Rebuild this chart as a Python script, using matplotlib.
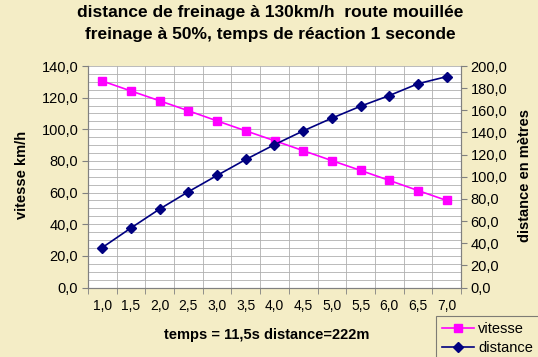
import matplotlib
matplotlib.use("Agg")
import matplotlib.pyplot as plt
from matplotlib.ticker import MultipleLocator, FuncFormatter, FixedLocator

plt.rcParams['font.family'] = ['Liberation Sans', 'DejaVu Sans']

# data
temps = ["1,0", "1,5", "2,0", "2,5", "3,0", "3,5", "4,0",
         "4,5", "5,0", "5,5", "6,0", "6,5", "7,0"]
vitesse = [130.5, 124.2, 118.0, 111.7, 105.3, 99.0, 92.8,
           86.5, 80.2, 74.0, 67.7, 61.3, 55.0]
distance = [36.1, 53.8, 70.9, 86.5, 101.2, 115.6, 129.0,
            141.4, 152.9, 163.7, 173.3, 184.0, 190.4]

bg = '#f4edc6'
grid_col = '#b0b0b0'
spine_col = '#808080'

def comma_fmt(v, pos):
    return f"{v:.1f}".replace('.', ',')

fig = plt.figure(figsize=(5.38, 3.57), dpi=100, facecolor=bg)
ax = fig.add_axes([88 / 538, 1 - 287.5 / 357, 373 / 538, 221.5 / 357])
ax.set_facecolor('white')
ax2 = ax.twinx()

x = list(range(len(temps)))

# left axis: vitesse
ax.set_xlim(-0.5, len(temps) - 0.5)
ax.set_ylim(0, 140)
ax.yaxis.set_major_locator(MultipleLocator(20))
ax.yaxis.set_minor_locator(MultipleLocator(5))
ax.yaxis.set_major_formatter(FuncFormatter(comma_fmt))
ax.set_xticks(x)
ax.set_xticklabels(temps)
ax.xaxis.set_minor_locator(FixedLocator([i - 0.5 for i in range(len(temps) + 1)]))
ax.tick_params(axis='x', which='major', length=0, pad=8, labelsize=10)
ax.tick_params(axis='x', which='minor', length=4, color=spine_col)
ax.tick_params(axis='y', which='major', length=4, color=spine_col, labelsize=10.5, pad=3)
ax.tick_params(axis='y', which='minor', length=0)
ax.grid(True, which='both', axis='y', color=grid_col, lw=0.6)
ax.grid(True, which='minor', axis='x', color=grid_col, lw=0.6)
ax.set_axisbelow(True)

# right axis: distance
ax2.set_ylim(0, 200)
ax2.yaxis.set_major_locator(MultipleLocator(20))
ax2.yaxis.set_major_formatter(FuncFormatter(comma_fmt))
ax2.tick_params(axis='y', length=4, color=spine_col, labelsize=10.5, pad=3)

for a in (ax, ax2):
    a.spines['top'].set_visible(False)
    for s in ('left', 'right', 'bottom'):
        a.spines[s].set_color(spine_col)
        a.spines[s].set_linewidth(0.8)

l1, = ax.plot(x, vitesse, color='#ff00ff', lw=1.2, marker='s', markersize=6,
              label='vitesse', zorder=3)
l2, = ax2.plot(x, distance, color='#000080', lw=1.2, marker='D', markersize=5,
               label='distance', zorder=3)

# titles and labels
fig.text(270 / 538, 1 - 13 / 357, "distance de freinage à 130km/h  route mouillée",
         ha='center', va='center', fontsize=12.5, fontweight='bold')
fig.text(270 / 538, 1 - 35 / 357, "freinage à 50%, temps de réaction 1 seconde",
         ha='center', va='center', fontsize=12.5, fontweight='bold')
fig.text(22 / 538, 1 - 175 / 357, "vitesse km/h", rotation=90,
         ha='center', va='center', fontsize=10.5, fontweight='bold')
fig.text(525 / 538, 1 - 175 / 357, "distance en mètres", rotation=90,
         ha='center', va='center', fontsize=10.5, fontweight='bold')
fig.text(267 / 538, 1 - 335 / 357, "temps = 11,5s distance=222m",
         ha='center', va='center', fontsize=10.5, fontweight='bold')

leg = fig.legend(handles=[l1, l2], loc='upper left',
                 bbox_to_anchor=(436 / 538, 1 - 316 / 357),
                 fontsize=10.5, frameon=True, fancybox=False,
                 handlelength=2.2, handletextpad=0.3, borderpad=0.4,
                 labelspacing=0.35, borderaxespad=0)
leg.get_frame().set_facecolor(bg)
leg.get_frame().set_edgecolor('#606060')
leg.get_frame().set_linewidth(0.8)

fig.savefig("out.png", dpi=100, facecolor=bg)
